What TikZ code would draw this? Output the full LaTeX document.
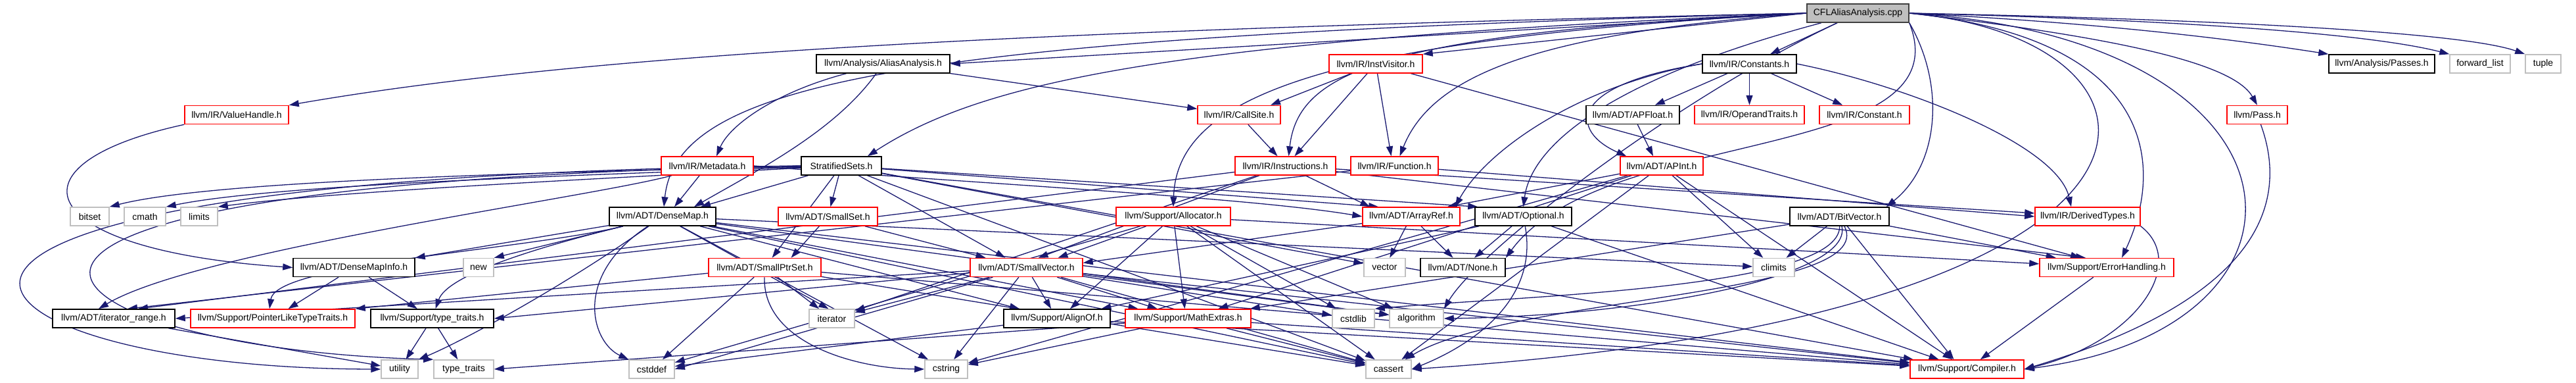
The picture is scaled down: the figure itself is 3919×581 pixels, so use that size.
\documentclass[tikz,border=0pt]{standalone}
\usepackage{fontspec}
\setmainfont{Liberation Sans}
\usetikzlibrary{arrows.meta,calc}
\pgfdeclarelayer{bg}
\pgfsetlayers{bg,main}
\definecolor{edgec}{HTML}{191970}
\definecolor{leafc}{HTML}{BFBFBF}
\definecolor{redc}{HTML}{FF0000}
\begin{document}
\begin{tikzpicture}[x=1pt,y=-1pt,
  nbox/.style={draw, line width=1.5pt, minimum height=28pt, inner sep=0pt, fill=white, font=\fontsize{14}{16}\selectfont},
  blk/.style={nbox, draw=black},
  rd/.style={nbox, draw=redc},
  lf/.style={nbox, draw=leafc},
  rt/.style={nbox, draw=black!75, fill=leafc},
  e/.style={draw=edgec, line width=1.3pt, -{Triangle[length=15pt,width=10pt]}}]
\useasboundingbox (0,0) rectangle (3919,581);
\newcommand{\gn}[6]{\node[#5, minimum width=#4pt] (#1) at (#2,#3) {#6};}
% row 0
\gn{root}{2826.5}{20}{155}{rt}{CFLAliasAnalysis.cpp}
% row 1
\gn{AA}{1343.5}{97}{203}{blk}{llvm/Analysis/AliasAnalysis.h}
\gn{IV}{2093}{97}{142}{rd}{llvm/IR/InstVisitor.h}
\gn{Const}{2661.5}{97}{143}{blk}{llvm/IR/Constants.h}
\gn{Passes}{3623.5}{97}{161}{blk}{llvm/Analysis/Passes.h}
\gn{fl}{3773}{97}{92}{lf}{forward\_list}
\gn{tuple}{3869}{97}{54}{lf}{tuple}
% row 2
\gn{VH}{360}{174.5}{158}{rd}{llvm/IR/ValueHandle.h}
\gn{CS}{1885}{174.5}{126}{rd}{llvm/IR/CallSite.h}
\gn{APF}{2484}{174.5}{142}{blk}{llvm/ADT/APFloat.h}
\gn{OT}{2661.5}{174.5}{167}{rd}{llvm/IR/OperandTraits.h}
\gn{Cst}{2836.5}{174.5}{137}{rd}{llvm/IR/Constant.h}
\gn{Pass}{3434}{174.5}{92}{rd}{llvm/Pass.h}
% row 3
\gn{MD}{1076}{252}{140}{rd}{llvm/IR/Metadata.h}
\gn{SS}{1280}{252}{122}{blk}{StratifiedSets.h}
\gn{Ins}{1955.5}{252}{153}{rd}{llvm/IR/Instructions.h}
\gn{Fn}{2121.5}{252}{133}{rd}{llvm/IR/Function.h}
\gn{APInt}{2528}{252}{126}{rd}{llvm/ADT/APInt.h}
% row 4
\gn{bitset}{136.5}{329}{59}{lf}{bitset}
\gn{cmath}{220.5}{329}{63}{lf}{cmath}
\gn{limits}{303}{329}{56}{lf}{limits}
\gn{DM}{1008}{329}{162}{blk}{llvm/ADT/DenseMap.h}
\gn{SSet}{1259.5}{329}{151}{rd}{llvm/ADT/SmallSet.h}
\gn{Alloc}{1785}{329}{174}{rd}{llvm/Support/Allocator.h}
\gn{AR}{2147}{329}{148}{rd}{llvm/ADT/ArrayRef.h}
\gn{Opt}{2317.5}{329}{147}{blk}{llvm/ADT/Optional.h}
\gn{BV}{2798.5}{329}{151}{blk}{llvm/ADT/BitVector.h}
\gn{DT}{3176}{329}{160}{rd}{llvm/IR/DerivedTypes.h}
% row 5
\gn{DMI}{538.5}{406.5}{185}{blk}{llvm/ADT/DenseMapInfo.h}
\gn{new}{728}{406.5}{46}{lf}{new}
\gn{SPS}{1163.5}{406.5}{171}{rd}{llvm/ADT/SmallPtrSet.h}
\gn{SV}{1561.5}{406.5}{171}{rd}{llvm/ADT/SmallVector.h}
\gn{vector}{2106.5}{406.5}{63}{lf}{vector}
\gn{None}{2225.5}{406.5}{129}{blk}{llvm/ADT/None.h}
\gn{climits}{2698.5}{406.5}{63}{lf}{climits}
\gn{EH}{3205}{406.5}{204}{rd}{llvm/Support/ErrorHandling.h}
% row 6
\gn{IR}{173}{484}{186}{blk}{llvm/ADT/iterator\_range.h}
\gn{PLTT}{415}{484}{250}{rd}{llvm/Support/PointerLikeTypeTraits.h}
\gn{tts}{657.5}{484}{187}{blk}{llvm/Support/type\_traits.h}
\gn{iterator}{1265.5}{484}{69}{lf}{iterator}
\gn{AlignOf}{1608}{484}{162}{blk}{llvm/Support/AlignOf.h}
\gn{ME}{1807.5}{484}{191}{rd}{llvm/Support/MathExtras.h}
\gn{cstdlib}{2059}{484}{64}{lf}{cstdlib}
\gn{alg}{2155}{484}{82}{lf}{algorithm}
% row 7
\gn{utility}{608}{561}{56}{lf}{utility}
\gn{ttstd}{705.5}{561}{91}{lf}{type\_traits}
\gn{cstddef}{991.5}{561}{69}{lf}{cstddef}
\gn{cstring}{1439.5}{561}{65}{lf}{cstring}
\gn{cassert}{2112.5}{561}{69}{lf}{cassert}
\gn{Comp}{2992.5}{561}{173}{rd}{llvm/Support/Compiler.h}

\begin{pgfonlayer}{bg}
% root
\draw[e] (root.west) -- (AA.east);
\draw[e] (root.west) -- (IV.north east);
\draw[e] (root) -- (Const);
\draw[e] (root.east) .. controls (3200,35) and (3400,60) .. (Passes.north west);
\draw[e] (root.east) .. controls (3300,30) and (3600,50) .. (fl.north west);
\draw[e] (root.east) .. controls (3400,30) and (3750,50) .. (tuple.north west);
\draw[e] (root.west) .. controls (1600,45) and (900,80) .. (VH.north east);
\draw[e] (root.west) .. controls (1800,60) and (1500,120) .. ($(SS.north)+(40,0)$);
\draw[e] (root.west) .. controls (2350,50) and (2180,110) .. ($(Fn.north)+(8,0)$);
\draw[e] (root.west) .. controls (2100,50) and (1975,110) .. ($(Ins.north)+(5,0)$);
\draw[e] (root.west) .. controls (1400,55) and (1030,120) .. ($(DM.north)+(2,0)$);
\draw[e] (root.south east) .. controls (2990,250) and (2440,190) .. (None.north east);
\draw[e] (root) .. controls (2450,120) and (2330,220) .. (Opt.north);
\draw[e] (root.south east) .. controls (2960,130) and (2950,250) .. ($(BV.north east)+(-5,0)$);
\draw[e] (root.east) .. controls (3250,60) and (3400,100) .. (Pass.north);
\draw[e] (root.west) .. controls (2000,60) and (1790,150) .. (Alloc.north);
\draw[e] (root.east) .. controls (3540,60) and (3560,500) .. (Comp.east);
\draw[e] (root.east) .. controls (3290,60) and (3290,260) .. ($(EH.north)+(23,0)$);
\draw[e] (root) .. controls (2550,150) and (2250,380) .. (alg.north east);
\draw[e] (root.east) .. controls (3350,60) and (3400,480) .. (cassert.east);
% AliasAnalysis
\draw[e] (AA) -- (CS);
\draw[e] (AA) .. controls (1180,140) and (1110,190) .. ($(MD.north)+(14,0)$);
\draw[e] (AA) .. controls (1270,200) and (1150,260) .. ($(DM.north)+(48,0)$);
% InstVisitor
\draw[e] (IV) -- ($(CS.north)+(48,0)$);
\draw[e] (IV) -- ($(Ins.north)+(14,0)$);
\draw[e] (IV) -- ($(Fn.north)+(-5,0)$);
\draw[e] (IV) -- ($(EH.north)+(-40,0)$);
% Constants
\draw[e] (Const) -- (APF);
\draw[e] (Const) -- (OT);
\draw[e] (Const) -- (Cst);
\draw[e] (Const.east) .. controls (2900,130) and (3130,220) .. ($(DT.north)+(-25,0)$);
\draw[e] (Const.west) .. controls (2380,130) and (2390,200) .. ($(APInt.north west)+(10,0)$);
\draw[e] (Const.west) .. controls (2400,130) and (2260,230) .. ($(AR.north east)+(-8,0)$);
% ValueHandle, CallSite, APFloat
\draw[e] (VH.south west) .. controls (0,250) and (50,380) .. (DMI.west);
\draw[e] (CS) -- ($(Ins.north)+(-12,0)$);
\draw[e] (APF) -- ($(APInt.north)+(-13,0)$);
% Metadata
\draw[e] (MD) -- ($(DM.north)+(18,0)$);
\draw[e] (MD.east) .. controls (1500,280) and (1900,300) .. (AR.west);
\draw[e] (MD) .. controls (900,300) and (300,380) .. ($(IR.north)+(-23,0)$);
% StratifiedSets
\draw[e] (SS) -- ($(AR.north west)+(25,0)$);
\draw[e] (SS) -- ($(DM.north)+(58,0)$);
\draw[e] (SS) -- ($(Opt.north west)+(5,0)$);
\draw[e] (SS) -- (SPS);
\draw[e] (SS) -- (SSet);
\draw[e] (SS) -- ($(SV.north)+(-32,0)$);
\draw[e] (SS) -- (Comp);
\draw[e] (SS) .. controls (800,262) and (320,275) .. (bitset.north east);
\draw[e] (SS) .. controls (820,268) and (410,282) .. (cmath.north east);
\draw[e] (SS) .. controls (860,274) and (500,292) .. (limits.north east);
\draw[e] (SS) -- (cassert);
\draw[e] (SS.west) .. controls (-400,270) and (-100,560) .. (utility.west);
\draw[e] (SS.west) .. controls (-300,280) and (50,530) .. (ttstd.north west);
\draw[e] (SS) -- (vector);
% Instructions
\draw[e] (Ins) -- ($(AR.north west)+(12,0)$);
\draw[e] (Ins) -- ($(SV.north)+(18,0)$);
\draw[e] (Ins) -- ($(IR.north)+(37,0)$);
\draw[e] (Ins) -- ($(DT.west)+(0,-5)$);
\draw[e] (Ins) -- ($(EH.north)+(-32,0)$);
\draw[e] (Ins) -- (iterator);
% Function
\draw[e] (Fn) -- ($(IR.north)+(21,0)$);
\draw[e] (Fn) -- (DT.west);
% APInt
\draw[e] (APInt) -- ($(AR.north east)+(-20,0)$);
\draw[e] (APInt) -- (ME);
\draw[e] (APInt) -- (Comp);
\draw[e] (APInt) -- (cassert);
\draw[e] (APInt) -- (climits);
\draw[e] (APInt) -- (cstring);
% DenseMap
\draw[e] (DM) -- (DMI.north east);
\draw[e] (DM) -- (new.north east);
\draw[e] (DM) .. controls (800,380) and (680,420) .. ($(tts.north)+(5,0)$);
\draw[e] (DM) .. controls (850,440) and (700,520) .. (utility.north east);
\draw[e] (DM) -- ($(iterator.north)+(-5,0)$);
\draw[e] (DM) .. controls (870,420) and (900,520) .. (cstddef.north west);
\draw[e] (DM) -- (AlignOf);
\draw[e] (DM) -- (ME);
\draw[e] (DM) .. controls (800,380) and (420,400) .. ($(PLTT.north)+(-5,0)$);
\draw[e] (DM) -- (Comp);
\draw[e] (DM) -- (alg);
\draw[e] (DM) -- (cassert);
\draw[e] (DM) -- (climits);
\draw[e] (DM) -- (cstring);
% SmallSet
\draw[e] (SSet) -- ($(SPS.north)+(40,0)$);
\draw[e] (SSet) -- ($(SV.north)+(-62,0)$);
% Allocator
\draw[e] (Alloc) -- ($(SV.north)+(48,0)$);
\draw[e] (Alloc) -- ($(AlignOf.north)+(20,0)$);
\draw[e] (Alloc) -- ($(ME.north)+(-5,0)$);
\draw[e] (Alloc) -- (EH);
\draw[e] (Alloc) -- (alg);
\draw[e] (Alloc) -- (cassert);
\draw[e] (Alloc) -- (cstddef);
\draw[e] (Alloc) -- (cstdlib);
% ArrayRef
\draw[e] (AR) -- (None);
\draw[e] (AR) -- ($(SV.east)+(0,-7)$);
\draw[e] (AR) -- (vector);
% Optional
\draw[e] (Opt) -- (None);
\draw[e] (Opt) -- (AlignOf);
\draw[e] (Opt) -- (Comp);
\draw[e] (Opt) .. controls (2340,450) and (2250,520) .. (cassert.east);
% BitVector
\draw[e] (BV) -- (climits);
\draw[e] (BV) .. controls (2820,420) and (2500,480) .. (alg.east);
\draw[e] (BV) .. controls (2860,450) and (2300,450) .. (cassert);
\draw[e] (BV) .. controls (2800,440) and (2300,450) .. (cstdlib.north east);
\draw[e] (BV) -- ($(Comp.north)+(-20,0)$);
\draw[e] (BV) -- (EH);
\draw[e] (BV) -- (ME);
% others
\draw[e] (DT.south east) .. controls (3330,400) and (3250,520) .. (Comp.east);
\draw[e] (DMI) -- (PLTT);
\draw[e] (DMI) -- (tts);
\draw[e] (SPS) -- (iterator);
\draw[e] (SPS) -- (cstddef);
\draw[e] (SPS) .. controls (1160,520) and (1300,560) .. (cstring.west);
\draw[e] (SPS) -- (Comp);
\draw[e] (SPS) -- (PLTT.north east);
\draw[e] (SPS) -- (cassert);
\draw[e] (SV) -- (AlignOf);
\draw[e] (SV) -- (ME);
\draw[e] (SV) -- (Comp);
\draw[e] (SV) -- (iterator);
\draw[e] (SV) -- (cstddef.east);
\draw[e] (SV) -- (cstring);
\draw[e] (SV) -- (cstdlib);
\draw[e] (SV) -- (alg);
\draw[e] (SV) -- (cassert);
\draw[e] (SV) -- (IR.east);
\draw[e] (SV) -- (tts.east);
\draw[e] (EH) -- (Comp);
\draw[e] (IR) -- (utility);
\draw[e] (tts) -- (utility);
\draw[e] (tts) -- (ttstd);
\draw[e] (AlignOf) -- (Comp);
\draw[e] (AlignOf) -- (cstddef);
\draw[e] (ME) -- (Comp);
\draw[e] (ME) -- (cassert);
\draw[e] (ME) -- (cstring);
\draw[e] (ME) -- (ttstd.east);
\draw[e] (Pass) .. controls (3480,300) and (3450,450) .. (Comp.east);
\end{pgfonlayer}
\end{tikzpicture}
\end{document}
